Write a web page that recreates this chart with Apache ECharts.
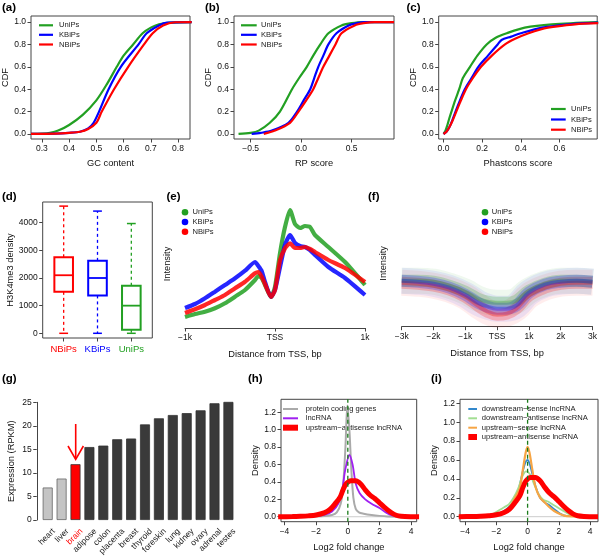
<!DOCTYPE html>
<html><head><meta charset="utf-8">
<script src="https://cdn.jsdelivr.net/npm/echarts@6/dist/echarts.min.js"></script>
<style>html,body{margin:0;padding:0;background:#fff}#c{width:600px;height:557px}</style>
</head><body><div id="c"></div>
<script>
const FONT = '"Liberation Sans", Arial, Helvetica, sans-serif';
const GREEN = '#22a022', BLUE = '#0000ff', RED = '#ff0000';

// (a) GC content CDF
const gcUniPs = [[0.26,0],[0.3,0.003],[0.33,0.01],[0.36,0.03],[0.4,0.08],[0.45,0.17],[0.5,0.30],[0.54,0.45],[0.575,0.6],[0.6,0.7],[0.635,0.8],[0.67,0.9],[0.7,0.95],[0.73,0.98],[0.77,0.995],[0.85,1]];
const gcKBiPs = [[0.26,0],[0.35,0.003],[0.4,0.01],[0.44,0.02],[0.47,0.05],[0.49,0.1],[0.51,0.2],[0.545,0.4],[0.59,0.6],[0.655,0.8],[0.685,0.9],[0.73,0.97],[0.76,0.995],[0.85,1]];
const gcNBiPs = [[0.26,0],[0.35,0.003],[0.4,0.01],[0.44,0.02],[0.47,0.045],[0.5,0.1],[0.52,0.2],[0.565,0.4],[0.617,0.6],[0.675,0.8],[0.707,0.9],[0.745,0.97],[0.79,0.998],[0.85,1]];
// (b) RP score CDF
const rpUniPs = [[-0.62,0],[-0.5,0.01],[-0.42,0.03],[-0.31,0.1],[-0.21,0.2],[-0.09,0.4],[-0.02,0.5],[0.056,0.6],[0.12,0.7],[0.19,0.8],[0.27,0.9],[0.40,0.97],[0.5,0.99],[0.6,1],[0.92,1]];
const rpKBiPs = [[-0.49,0],[-0.4,0.01],[-0.29,0.03],[-0.125,0.1],[-0.04,0.2],[0.025,0.3],[0.09,0.4],[0.13,0.5],[0.17,0.6],[0.22,0.7],[0.27,0.8],[0.35,0.9],[0.47,0.97],[0.55,0.99],[0.63,1],[0.92,1]];
const rpNBiPs = [[-0.37,0],[-0.26,0.03],[-0.11,0.1],[-0.026,0.2],[0.05,0.3],[0.12,0.4],[0.17,0.5],[0.22,0.6],[0.28,0.7],[0.34,0.8],[0.40,0.9],[0.53,0.97],[0.62,0.99],[0.73,1],[0.92,1]];
// (c) Phastcons CDF
const phUniPs = [[0,0],[0.01,0.03],[0.02,0.08],[0.03,0.14],[0.041,0.2],[0.06,0.3],[0.081,0.4],[0.10,0.5],[0.137,0.6],[0.175,0.7],[0.223,0.8],[0.27,0.86],[0.327,0.9],[0.42,0.95],[0.56,0.98],[0.8,1.0]];
const phKBiPs = [[0,0],[0.015,0.02],[0.03,0.06],[0.045,0.12],[0.062,0.2],[0.085,0.3],[0.11,0.4],[0.145,0.5],[0.18,0.6],[0.23,0.7],[0.28,0.8],[0.3,0.84],[0.35,0.87],[0.40,0.9],[0.51,0.95],[0.65,0.98],[0.8,0.995]];
const phNBiPs = [[0,0],[0.015,0.02],[0.03,0.06],[0.047,0.12],[0.066,0.2],[0.09,0.3],[0.116,0.4],[0.152,0.5],[0.194,0.6],[0.25,0.7],[0.318,0.8],[0.37,0.85],[0.44,0.9],[0.54,0.95],[0.68,0.98],[0.8,0.99]];
const cdfTicks = [0,0.2,0.4,0.6,0.8,1.0];
const gcTicks = [0.3,0.4,0.5,0.6,0.7,0.8];
const rpTicks = [-0.5,0,0.5];
const phTicks = [0,0.2,0.4,0.6];

// (d) H3K4me3 boxplot
const boxNames = ['NBiPs','KBiPs','UniPs'];
const boxColors = [RED, BLUE, GREEN];
const boxMin = [0,0,0];
const boxQ1 = [1500,1370,130];
const boxMedian = [2100,2000,1000];
const boxQ3 = [2750,2620,1720];
const boxMax = [4600,4420,3970];
const boxTicks = [0,1000,2000,3000,4000];

// (e) intensity around TSS (+-1k)
const tssX = [-1000,-889,-778,-667,-556,-444,-333,-222,-185,-148,-111,-44,0,56,111,167,222,278,333,389,444,593,778,1000];
const tssUniPs = [11,14,16.3,19.7,24.7,31.3,38,48,52,50,43,31,41,75,101,118,104,100,102,101,93,81,66,43];
const tssKBiPs = [20,24,29.7,36.3,43,49.7,57.3,66,62,57,46,31,38,61,83,93,85,82,81,78,73,61,50,33];
const tssNBiPs = [15,18.7,23,28,33,39.7,46.3,54.7,56,51.3,44,31,38,68,79.7,84.7,80,80,81,79,76,68,60,46];
const tssTicks = [-1000,0,1000];
const tssLabels = ['\u22121k','TSS','1k'];

// (f) intensity around TSS (+-3k)
const wideX = [-3000,-2500,-2000,-1500,-1000,-600,-300,0,300,600,1000,1500,2000,2500,3000];
const wideUniPs = [46,46,45,41,35,28,25,24,24,26,36,43,46,46,45];
const wideKBiPs = [46,45,43,39,32,24,20,18,18,21,34,42,45,46,45];
const wideNBiPs = [44,43,41,37,30,21,15,12,13,18,31,39,43,44,44];
const wideTicks = [-3000,-2000,-1000,0,1000,2000,3000];
const wideLabels = ['\u22123k','\u22122k','\u22121k','TSS','1k','2k','3k'];

// (g) expression by tissue
const tissues = ['heart','liver','brain','adipose','colon','placenta','breast','thyroid','foreskin','lung','kidney','ovary','adrenal','testes'];
const expression = [6.9,8.8,11.85,15.5,15.8,17.15,17.3,20.3,21.6,22.3,22.7,23.3,24.8,25.3];
const exprTicks = [0,5,10,15,20,25];

// (h) densities
const densPcg = [[-4.4,0],[-2.5,0.003],[-1.5,0.008],[-1,0.02],[-0.7,0.05],[-0.45,0.15],[-0.3,0.35],[-0.15,0.8],[-0.03,1.28],[0.1,1.0],[0.22,0.55],[0.35,0.22],[0.5,0.09],[0.7,0.05],[1,0.035],[1.5,0.02],[2,0.01],[2.5,0.004],[4.5,0]];
const densLnc = [[-4.4,0],[-2.5,0.003],[-2,0.008],[-1.5,0.02],[-1,0.06],[-0.6,0.15],[-0.35,0.32],[-0.15,0.55],[0.1,0.71],[0.3,0.6],[0.5,0.38],[0.75,0.27],[1.1,0.2],[1.5,0.15],[2,0.1],[2.4,0.05],[2.8,0.015],[3.2,0.004],[4.5,0]];
const densUpAnti = [[-4.4,0],[-3.5,0.002],[-3,0.005],[-2.5,0.01],[-2,0.02],[-1.5,0.045],[-1.15,0.08],[-0.8,0.15],[-0.5,0.22],[-0.3,0.31],[-0.1,0.38],[0.2,0.415],[0.5,0.415],[0.8,0.38],[1.1,0.31],[1.4,0.25],[1.7,0.21],[2,0.16],[2.3,0.11],[2.6,0.065],[2.9,0.03],[3.2,0.01],[3.6,0.003],[4.5,0]];
// (i) densities
const densDownSense = [[-4.4,0],[-2.5,0.004],[-2,0.02],[-1.6,0.05],[-1.2,0.1],[-0.9,0.16],[-0.6,0.27],[-0.35,0.45],[-0.15,0.57],[0,0.6],[0.15,0.55],[0.35,0.42],[0.55,0.3],[0.8,0.2],[1.1,0.15],[1.4,0.12],[1.7,0.08],[2.1,0.03],[2.5,0.008],[4.5,0]];
const densDownAnti = [[-4.4,0],[-2.7,0.008],[-2.2,0.03],[-1.8,0.07],[-1.5,0.1],[-1.2,0.13],[-0.9,0.2],[-0.6,0.3],[-0.35,0.42],[-0.1,0.48],[0.15,0.45],[0.4,0.35],[0.7,0.24],[1,0.18],[1.3,0.16],[1.6,0.13],[2,0.09],[2.4,0.05],[2.8,0.015],[3.2,0.003],[4.5,0]];
const densUpSense = [[-4.4,0],[-2.5,0.003],[-2,0.015],[-1.7,0.035],[-1.4,0.06],[-1.1,0.11],[-0.8,0.2],[-0.5,0.3],[-0.3,0.5],[-0.12,0.68],[0,0.74],[0.12,0.68],[0.3,0.5],[0.5,0.32],[0.8,0.2],[1.1,0.15],[1.4,0.1],[1.7,0.06],[2.1,0.025],[2.5,0.005],[4.5,0]];
const foldTicks = [-4,-2,0,2,4];
const densTicks = [0,0.2,0.4,0.6,0.8,1.0,1.2];

// ---------- building ----------
const grids = [], xAxes = [], yAxes = [], series = [], graphics = [];
const minus = s => String(s).replace('-', '\u2212');
const f1 = v => minus((+v).toFixed(1));
const f0 = v => minus(String(Math.round(+v)));

function panel(g, box, xa, ya) {
  const i = grids.length;
  grids.push(Object.assign({show: box, borderColor: '#444', borderWidth: 1}, g));
  xa.gridIndex = i; ya.gridIndex = i;
  xAxes.push(xa); yAxes.push(ya);
  return i;
}
function valAxis(min, max, ticks, fmt, extra) {
  const has = !!ticks;
  const ax = {
    type: 'value', min: min, max: max, splitLine: {show: false},
    axisLine: {show: false, onZero: false, lineStyle: {color: '#444', width: 1}},
    axisTick: {show: has, length: 3.5, lineStyle: {color: '#444', width: 1}},
    axisLabel: {show: has, formatter: fmt, fontSize: 8.5, color: '#111', fontFamily: FONT, margin: 5},
    nameLocation: 'middle', nameTextStyle: {fontSize: 9.3, color: '#111', fontFamily: FONT}
  };
  if (has) { ax.axisTick.customValues = ticks; ax.axisLabel.customValues = ticks; }
  return Object.assign(ax, extra || {});
}
const shownLine = {show: true, onZero: false, lineStyle: {color: '#444', width: 1}};
function line(idx, data, color, width, extra) {
  series.push(Object.assign({type: 'line', xAxisIndex: idx, yAxisIndex: idx, data: data, symbol: 'none',
    smooth: 0.3, lineStyle: {color: color, width: width}, itemStyle: {color: color}, silent: true}, extra || {}));
}
function label(txt, x, y) {
  graphics.push({type: 'text', x: x, y: y, style: {text: txt, font: 'bold 11.5px ' + FONT, fill: '#000', textAlign: 'left', textVerticalAlign: 'top', align: 'left', verticalAlign: 'top'}});
}
function lineLegend(x1, x2, tx, ys, items) {
  items.forEach((it, k) => {
    graphics.push({type: 'line', shape: {x1: x1, y1: ys[k], x2: x2, y2: ys[k]}, style: {stroke: it.color, lineWidth: it.width}});
    graphics.push({type: 'text', x: tx, y: ys[k], style: {text: it.text, fill: '#222', font: '7.6px ' + FONT, textAlign: 'left', textVerticalAlign: 'middle', align: 'left', verticalAlign: 'middle'}});
  });
}
function dotLegend(cx, tx, ys, items) {
  items.forEach((it, k) => {
    graphics.push({type: 'circle', shape: {cx: cx, cy: ys[k], r: 3.3}, style: {fill: it.color}});
    graphics.push({type: 'text', x: tx, y: ys[k], style: {text: it.text, fill: '#222', font: '7.6px ' + FONT, textAlign: 'left', textVerticalAlign: 'middle', align: 'left', verticalAlign: 'middle'}});
  });
}
const triple = [{text: 'UniPs', color: GREEN, width: 2.2}, {text: 'KBiPs', color: BLUE, width: 2.2}, {text: 'NBiPs', color: RED, width: 2.2}];

// (a)
const ia = panel({left: 31, top: 16, width: 159, height: 123}, true,
  valAxis(0.26, 0.844, gcTicks, f1, {name: 'GC content', nameGap: 20}),
  valAxis(-0.045, 1.054, cdfTicks, f1, {name: 'CDF', nameGap: 18}));
line(ia, gcUniPs, GREEN, 2.2); line(ia, gcKBiPs, BLUE, 2.2); line(ia, gcNBiPs, RED, 2.2);
lineLegend(39, 53, 59, [25.3, 34.8, 44.5], triple);
label('(a)', 2, 2);

// (b)
const ib = panel({left: 234, top: 16, width: 160, height: 123}, true,
  valAxis(-0.665, 0.92, rpTicks, f1, {name: 'RP score', nameGap: 20}),
  valAxis(-0.045, 1.054, cdfTicks, f1, {name: 'CDF', nameGap: 18}));
line(ib, rpUniPs, GREEN, 2.2); line(ib, rpKBiPs, BLUE, 2.2); line(ib, rpNBiPs, RED, 2.2);
lineLegend(241, 256.7, 261, [25.3, 34.8, 44.5], triple);
label('(b)', 205, 2);

// (c)
const ic = panel({left: 438.7, top: 16, width: 158.5, height: 123}, true,
  valAxis(-0.025, 0.795, phTicks, f1, {name: 'Phastcons score', nameGap: 20}),
  valAxis(-0.045, 1.054, cdfTicks, f1, {name: 'CDF', nameGap: 18}));
line(ic, phUniPs, GREEN, 2.2); line(ic, phKBiPs, BLUE, 2.2); line(ic, phNBiPs, RED, 2.2);
lineLegend(551, 565.7, 571, [109, 119.5, 129.7], triple);
label('(c)', 406.5, 2);

// (d) boxplot
const id = panel({left: 42.7, top: 202, width: 109.6, height: 136}, true,
  valAxis(0.38, 3.62, [1, 2, 3], v => boxNames[Math.round(+v) - 1]),
  valAxis(-170, 4749, boxTicks, f0, {name: 'H3K4me3 density', nameGap: 28}));
xAxes[id].axisLabel.fontSize = 9.5;
xAxes[id].axisLabel.margin = 6;
xAxes[id].axisLabel.color = (v, i) => boxColors[Math.round(+v) - 1] || '#111';
series.push({type: 'custom', xAxisIndex: id, yAxisIndex: id, silent: true,
  data: boxNames.map((n, i) => [i + 1, boxMin[i], boxQ1[i], boxMedian[i], boxQ3[i], boxMax[i]]),
  renderItem: function (params, api) {
    const x = api.value(0), mn = api.value(1), q1 = api.value(2), md = api.value(3), q3 = api.value(4), mx = api.value(5);
    const c = boxColors[params.dataIndex];
    const P = (a, b) => api.coord([a, b]);
    const hw = 0.275, cw = 0.13;
    const seg = (a, b, st) => ({type: 'line', shape: {x1: a[0], y1: a[1], x2: b[0], y2: b[1]}, style: st});
    const tl = P(x - hw, q3), br = P(x + hw, q1);
    return {type: 'group', children: [
      seg(P(x, q3), P(x, mx), {stroke: c, lineWidth: 1.3, lineDash: [3, 3]}),
      seg(P(x, q1), P(x, mn), {stroke: c, lineWidth: 1.3, lineDash: [3, 3]}),
      seg(P(x - cw, mx), P(x + cw, mx), {stroke: c, lineWidth: 1.5}),
      seg(P(x - cw, mn), P(x + cw, mn), {stroke: c, lineWidth: 1.5}),
      {type: 'rect', shape: {x: tl[0], y: tl[1], width: br[0] - tl[0], height: br[1] - tl[1]}, style: {fill: '#fff', stroke: c, lineWidth: 2}},
      seg(P(x - hw, md), P(x + hw, md), {stroke: c, lineWidth: 1.8})
    ]};
  }});
label('(d)', 2, 191);

// (e)
const ie = panel({left: 185, top: 200, width: 180, height: 128}, false,
  valAxis(-1000, 1000, tssTicks, v => tssLabels[tssTicks.indexOf(Math.round(+v))], {name: 'Distance from TSS, bp', nameGap: 22, axisLine: shownLine}),
  valAxis(0, 128, null, null, {name: 'Intensity', nameGap: 13}));
const zipE = ys => tssX.map((x, i) => [x, ys[i]]);
line(ie, zipE(tssUniPs), GREEN, 4.2, {smooth: 0.2, lineStyle: {color: GREEN, width: 4.2, opacity: 0.85}});
line(ie, zipE(tssKBiPs), BLUE, 4.2, {smooth: 0.2, lineStyle: {color: BLUE, width: 4.2, opacity: 0.85}});
line(ie, zipE(tssNBiPs), RED, 4.2, {smooth: 0.2, lineStyle: {color: RED, width: 4.2, opacity: 0.85}});
dotLegend(185, 192.5, [212.3, 222, 231.7], triple);
label('(e)', 166.5, 191);

// (f)
const iff = panel({left: 401.7, top: 200, width: 192.6, height: 126.7}, false,
  valAxis(-3000, 3000, wideTicks, v => wideLabels[wideTicks.indexOf(Math.round(+v))], {name: 'Distance from TSS, bp', nameGap: 22, axisLine: shownLine}),
  valAxis(0, 126.7, null, null, {name: 'Intensity', nameGap: 14}));
const zipF = ys => wideX.map((x, i) => [x, ys[i]]);
const fLayers = [[wideNBiPs, RED], [wideUniPs, GREEN], [wideKBiPs, BLUE]];
fLayers.forEach(([d, c]) => {
  line(iff, zipF(d), c, 26, {smooth: 0.4, lineStyle: {color: c, width: 26, opacity: 0.07}});
});
fLayers.forEach(([d, c]) => {
  line(iff, zipF(d), c, 12, {smooth: 0.4, lineStyle: {color: c, width: 12, opacity: 0.22}});
});
fLayers.forEach(([d, c]) => {
  line(iff, zipF(d), c, 4, {smooth: 0.4, lineStyle: {color: c, width: 4, opacity: 0.3}});
});
dotLegend(485, 491.7, [212.3, 222, 231.7], triple);
label('(f)', 368, 191);

// (g) bars
const ig = grids.length;
grids.push({left: 40.75, top: 402.3, width: 194.6, height: 117.7, show: false});
xAxes.push({type: 'category', gridIndex: ig, data: tissues, axisLine: {show: false, onZero: false}, axisTick: {show: false}, axisLabel: {show: false}});
yAxes.push(valAxis(0, 25, exprTicks, f0, {gridIndex: ig, name: 'Expression (RPKM)', nameGap: 21, offset: 4, axisLine: shownLine}));
series.push({type: 'bar', xAxisIndex: ig, yAxisIndex: ig, barWidth: 10, silent: true,
  data: expression.map((v, i) => ({value: v, itemStyle: {color: i < 2 ? '#c4c4c4' : (i === 2 ? RED : '#3a3a3a'), borderColor: i < 2 ? '#666' : '#333', borderWidth: 0.8}}))});
series.push({type: 'custom', xAxisIndex: ig, yAxisIndex: ig, silent: true, clip: false,
  data: tissues.map((t, i) => [i, 0]),
  renderItem: function (params, api) {
    const p = api.coord([api.value(0), 0]);
    const t = tissues[params.dataIndex];
    return {type: 'text', x: p[0] + 6, y: p[1] + 10, rotation: Math.PI / 4,
      style: {text: t, fill: t === 'brain' ? RED : '#222', font: '8.5px ' + FONT, align: 'right', verticalAlign: 'middle', textAlign: 'right', textVerticalAlign: 'middle'}};
  }});
graphics.push({type: 'polyline', shape: {points: [[75.7, 424], [75.7, 459]]}, style: {stroke: RED, lineWidth: 1.6, fill: null}});
graphics.push({type: 'polyline', shape: {points: [[68, 446], [75.7, 459.5], [83.4, 446]]}, style: {stroke: RED, lineWidth: 1.6, fill: null}});
label('(g)', 2, 373);

// (h)
const hX = [-4.22, 4.35], hY = [-0.057, 1.35];
const ih = panel({left: 281, top: 399.3, width: 135.7, height: 122.4}, true,
  valAxis(hX[0], hX[1], foldTicks, f0, {name: 'Log2 fold change', nameGap: 21}),
  valAxis(hY[0], hY[1], densTicks, f1, {name: 'Density', nameGap: 20}));
line(ih, [[hX[0], 0], [hX[1], 0]], '#cccccc', 1, {smooth: false});
line(ih, densPcg, '#aaaaaa', 2);
line(ih, densLnc, '#a020f0', 1.8);
line(ih, densUpAnti, RED, 5);
line(ih, [[0, hY[0]], [0, hY[1]]], '#1a7a1a', 1.3, {smooth: false, lineStyle: {color: '#1a7a1a', width: 1.3, type: [4, 3]}});
lineLegend(283, 298, 305.7, [409, 418.3, 427.7], [
  {text: 'protein coding genes', color: '#aaaaaa', width: 2},
  {text: 'lncRNA', color: '#a020f0', width: 2},
  {text: 'upstream\u2212antisense lncRNA', color: RED, width: 6}]);
label('(h)', 248, 373);

// (i)
const iX = [-4.32, 4.5], iY = [-0.053, 1.242];
const ii = panel({left: 460, top: 399.3, width: 138, height: 122.4}, true,
  valAxis(iX[0], iX[1], foldTicks, f0, {name: 'Log2 fold change', nameGap: 21}),
  valAxis(iY[0], iY[1], densTicks, f1, {name: 'Density', nameGap: 20}));
line(ii, [[iX[0], 0], [iX[1], 0]], '#cccccc', 1, {smooth: false});
line(ii, densDownSense, '#3388cc', 1.8);
line(ii, densDownAnti, '#a2de92', 1.8);
line(ii, densUpSense, '#f6a545', 2.2);
line(ii, densUpAnti, RED, 5);
line(ii, [[0, iY[0]], [0, iY[1]]], '#1a7a1a', 1.3, {smooth: false, lineStyle: {color: '#1a7a1a', width: 1.3, type: [4, 3]}});
lineLegend(468.3, 477, 481.7, [409, 418.3, 427.7, 437], [
  {text: 'downstream\u2212sense lncRNA', color: '#3388cc', width: 2},
  {text: 'downstream\u2212antisense lncRNA', color: '#a2de92', width: 2},
  {text: 'upstream\u2212sense lncRNA', color: '#f6a545', width: 2},
  {text: 'upstream\u2212antisense lncRNA', color: RED, width: 6}]);
label('(i)', 431, 373);

const chart = echarts.init(document.getElementById('c'), null, {renderer: 'canvas'});
chart.setOption({
  animation: false,
  backgroundColor: '#fff',
  textStyle: {fontFamily: FONT},
  grid: grids, xAxis: xAxes, yAxis: yAxes, series: series,
  graphic: {elements: graphics}
});
</script></body></html>
